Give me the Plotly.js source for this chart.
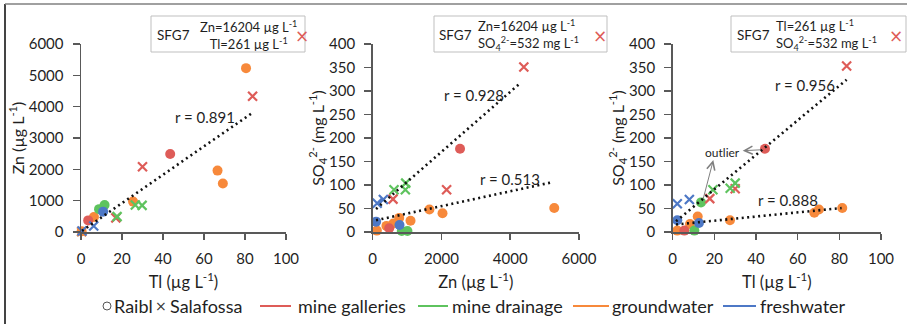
<!DOCTYPE html>
<html><head><meta charset="utf-8">
<script src="https://cdn.plot.ly/plotly-3.0.1.min.js"></script>
<style>html,body{margin:0;padding:0;background:#fff}#c{width:907px;height:324px}</style>
</head><body><div id="c"></div>
<script>
// ---------- DATA ----------
// Panel 1: Tl (x) vs Zn (y)
const P1_GAL_R_X=[43.5,3.5],           P1_GAL_R_Y=[2490,370];
const P1_GAL_S_X=[83.7,30,17],         P1_GAL_S_Y=[4330,2080,450];
const P1_DRA_R_X=[8.8,11.5],           P1_DRA_R_Y=[730,860];
const P1_DRA_S_X=[26.5,29.8,17.6],     P1_DRA_S_Y=[860,850,490];
const P1_GRO_R_X=[80.5,66.6,69.2,25.4,6.3,0.3], P1_GRO_R_Y=[5230,1960,1550,970,480,20];
const P1_GRO_S_X=[0.3],                P1_GRO_S_Y=[10];
const P1_FRE_R_X=[10.8],               P1_FRE_R_Y=[650];
const P1_FRE_S_X=[6.2,0.5],            P1_FRE_S_Y=[190,30];
// Panel 2: Zn (x) vs SO4 (y)
const P2_GAL_R_X=[2540,480],           P2_GAL_R_Y=[177,8];
const P2_GAL_S_X=[4395,2150,590],      P2_GAL_S_Y=[351,90,70];
const P2_DRA_R_X=[845,1010],           P2_DRA_R_Y=[2,2];
const P2_DRA_S_X=[620,960,950],        P2_DRA_S_Y=[90,104,90];
const P2_GRO_R_X=[5280,1650,2030,1100,770,600,400,120], P2_GRO_R_Y=[51,48,40,24,30,18,13,3];
const P2_FRE_R_X=[100,780],            P2_FRE_R_Y=[22,15];
const P2_FRE_S_X=[130,310],            P2_FRE_S_Y=[61,69];
// Panel 3: Tl (x) vs SO4 (y)
const P3_GAL_R_X=[44.3,5.6],           P3_GAL_R_Y=[177,3];
const P3_GAL_S_X=[83.5,30,17.8],       P3_GAL_S_Y=[353,92,71];
const P3_DRA_R_X=[13.6,10.4],          P3_DRA_R_Y=[63,3];
const P3_DRA_S_X=[30,27.6,19.3],       P3_DRA_S_Y=[104,93,90];
const P3_GRO_R_X=[81.4,70.2,68,27.5,12,8.3,2.2], P3_GRO_R_Y=[51,48,41,25,33,17,3];
const P3_FRE_R_X=[2.2,12.6],           P3_FRE_R_Y=[25,19];
const P3_FRE_S_X=[2.2,8],              P3_FRE_S_Y=[60,69];
// Trend lines (end points)
const FIT1_X=[0.5,83.3],  FIT1_Y=[37,3790];
const FIT2A_X=[97,4280],  FIT2A_Y=[49,316];
const FIT2B_X=[97,5228],  FIT2B_Y=[25,106];
const FIT3A_X=[1.6,83.5], FIT3A_Y=[23,324];
const FIT3B_X=[1.6,81.1], FIT3B_Y=[16,51];
const R_LABELS=['r = 0.891','r = 0.928','r = 0.513','r = 0.956','r = 0.888'];
// Tick settings
const X_TICKS_TL=[0,20,40,60,80,100];
const X_TICKS_ZN=[0,2000,4000,6000];
const Y_TICKS_ZN=[0,1000,2000,3000,4000,5000,6000];
const Y_TICKS_SO4=[0,50,100,150,200,250,300,350,400];
const GROUPS=['mine galleries','mine drainage','groundwater','freshwater'];
const SITES=['Raibl','Salafossa'];

// ---------- STYLE ----------
const COL={gal:'#DE5C58',dra:'#5EC35E',gro:'#F7893B',fre:'#4D78C6'};
const FONT='Lato, "Open Sans", sans-serif';
const W=907,H=324;
const PX=x=>x/W, PY=y=>1-y/H;

function circ(x,y,c,xa,ya){return {type:'scatter',mode:'markers',x:x,y:y,xaxis:xa,yaxis:ya,cliponaxis:false,showlegend:false,
  marker:{symbol:'circle',size:10,color:c,line:{width:0}}};}
function cross(x,y,c,xa,ya){return {type:'scatter',mode:'markers',x:x,y:y,xaxis:xa,yaxis:ya,cliponaxis:false,showlegend:false,
  marker:{symbol:'x-thin',size:9,color:c,line:{width:2.2,color:c}}};}
function fit(x,y,xa,ya){return {type:'scatter',mode:'lines',x:x,y:y,xaxis:xa,yaxis:ya,showlegend:false,cliponaxis:false,
  line:{color:'#111',width:2.6,dash:'2px,3.5px'}};}

const data=[
  circ(P1_GRO_R_X,P1_GRO_R_Y,COL.gro,'x','y'),
  circ(P1_GAL_R_X,P1_GAL_R_Y,COL.gal,'x','y'),
  circ(P1_DRA_R_X,P1_DRA_R_Y,COL.dra,'x','y'),
  circ(P1_FRE_R_X,P1_FRE_R_Y,COL.fre,'x','y'),
  cross(P1_GAL_S_X,P1_GAL_S_Y,COL.gal,'x','y'),
  cross(P1_DRA_S_X,P1_DRA_S_Y,COL.dra,'x','y'),
  cross(P1_GRO_S_X,P1_GRO_S_Y,COL.gro,'x','y'),
  cross(P1_FRE_S_X,P1_FRE_S_Y,COL.fre,'x','y'),
  fit(FIT1_X,FIT1_Y,'x','y'),

  circ(P2_GRO_R_X,P2_GRO_R_Y,COL.gro,'x2','y2'),
  circ(P2_GAL_R_X,P2_GAL_R_Y,COL.gal,'x2','y2'),
  circ(P2_DRA_R_X,P2_DRA_R_Y,COL.dra,'x2','y2'),
  circ(P2_FRE_R_X,P2_FRE_R_Y,COL.fre,'x2','y2'),
  cross(P2_GAL_S_X,P2_GAL_S_Y,COL.gal,'x2','y2'),
  cross(P2_DRA_S_X,P2_DRA_S_Y,COL.dra,'x2','y2'),
  cross(P2_FRE_S_X,P2_FRE_S_Y,COL.fre,'x2','y2'),
  fit(FIT2A_X,FIT2A_Y,'x2','y2'),
  fit(FIT2B_X,FIT2B_Y,'x2','y2'),

  circ(P3_GRO_R_X,P3_GRO_R_Y,COL.gro,'x3','y3'),
  circ(P3_GAL_R_X,P3_GAL_R_Y,COL.gal,'x3','y3'),
  circ(P3_DRA_R_X,P3_DRA_R_Y,COL.dra,'x3','y3'),
  circ(P3_FRE_R_X,P3_FRE_R_Y,COL.fre,'x3','y3'),
  cross(P3_GAL_S_X,P3_GAL_S_Y,COL.gal,'x3','y3'),
  cross(P3_DRA_S_X,P3_DRA_S_Y,COL.dra,'x3','y3'),
  cross(P3_FRE_S_X,P3_FRE_S_Y,COL.fre,'x3','y3'),
  fit(FIT3A_X,FIT3A_Y,'x3','y3'),
  fit(FIT3B_X,FIT3B_Y,'x3','y3')
];

const AX_COL='#595959', TXT='#1f1f1f';
function xax(dom,ticks,title,yanchor){return {domain:dom,anchor:yanchor,range:[ticks[0],ticks[ticks.length-1]],tickvals:ticks,
  showline:true,linecolor:AX_COL,linewidth:1.5,ticks:'outside',ticklen:6,tickwidth:1.5,tickcolor:AX_COL,
  showgrid:false,zeroline:false,fixedrange:true,ticklabelstandoff:6,
  tickfont:{family:FONT,size:15,color:TXT},
  title:{text:title,font:{family:FONT,size:16.5,color:TXT},standoff:11}};}
function yax(ticks,title,xanchor){return {domain:[PY(232),PY(44)],anchor:xanchor,range:[ticks[0],ticks[ticks.length-1]],tickvals:ticks,
  showline:true,linecolor:AX_COL,linewidth:1.5,ticks:'outside',ticklen:7,tickwidth:1.5,tickcolor:AX_COL,
  showgrid:false,zeroline:false,fixedrange:true,ticklabelstandoff:6,
  tickfont:{family:FONT,size:15,color:TXT},
  title:{text:title,font:{family:FONT,size:16,color:TXT},standoff:0}};}

const ann=[];
// correlation labels
ann.push({xref:'x',yref:'y',x:60.7,y:3660,text:R_LABELS[0],showarrow:false,font:{family:FONT,size:15,color:TXT}});
ann.push({xref:'x2',yref:'y2',x:2943,y:292,text:R_LABELS[1],showarrow:false,font:{family:FONT,size:15,color:TXT}});
ann.push({xref:'x2',yref:'y2',x:3998,y:113,text:R_LABELS[2],showarrow:false,font:{family:FONT,size:15,color:TXT}});
ann.push({xref:'x3',yref:'y3',x:63.7,y:312,text:R_LABELS[3],showarrow:false,font:{family:FONT,size:15,color:TXT}});
ann.push({xref:'x3',yref:'y3',x:55.2,y:69,text:R_LABELS[4],showarrow:false,font:{family:FONT,size:15,color:TXT}});
// outlier
ann.push({xref:'x3',yref:'y3',x:24.1,y:170,text:'outlier',showarrow:false,font:{family:FONT,size:12,color:TXT}});
ann.push({xref:'x3',yref:'y3',x:33.6,y:173,axref:'x3',ayref:'y3',ax:43,ay:175,text:'',showarrow:true,
  arrowhead:5,arrowsize:1.6,arrowwidth:1,arrowcolor:'#7f7f7f',standoff:0,startstandoff:0});
ann.push({xref:'x3',yref:'y3',x:19.5,y:153,axref:'x3',ayref:'y3',ax:14.5,ay:68,text:'',showarrow:true,
  arrowhead:5,arrowsize:1.6,arrowwidth:1,arrowcolor:'#7f7f7f',standoff:0,startstandoff:0});

// SFG7 boxes
const boxes=[
  {x0:151,x1:305,sfg:155,tx:249,anchor:'center',align:'center',l1:'Zn=16204 µg L<sup>-1</sup>',l2:'Tl=261 µg L<sup>-1</sup>',cx:302},
  {x0:434,x1:607,sfg:437,tx:476,anchor:'left',align:'left',l1:'Zn=16204 µg L<sup>-1</sup>',l2:'SO<sub>4</sub><sup>2-</sup>=532 mg L<sup>-1</sup>',cx:600},
  {x0:731,x1:906,sfg:735,tx:774,anchor:'left',align:'left',l1:'Tl=261 µg L<sup>-1</sup>',l2:'SO<sub>4</sub><sup>2-</sup>=532 mg L<sup>-1</sup>',cx:896}
];
const shapes=[];
boxes.forEach(b=>{
  shapes.push({type:'rect',xref:'paper',yref:'paper',x0:PX(b.x0),x1:PX(b.x1),y0:PY(52),y1:PY(16),line:{color:'#bfbfbf',width:1},fillcolor:'rgba(0,0,0,0)'});
  ann.push({xref:'paper',yref:'paper',x:PX(b.sfg),y:PY(35),xanchor:'left',yanchor:'middle',text:'SFG7',showarrow:false,font:{family:FONT,size:13.5,color:TXT}});
  ann.push({xref:'paper',yref:'paper',x:PX(b.tx),y:PY(35),xanchor:b.anchor,yanchor:'middle',align:b.align,text:b.l1+'<br>'+b.l2,showarrow:false,font:{family:FONT,size:13,color:TXT}});
  ann.push({xref:'paper',yref:'paper',x:PX(b.cx),y:PY(36),xanchor:'center',yanchor:'middle',text:'×',showarrow:false,font:{family:'DejaVu Sans',size:17,color:COL.gal}});
});

// frame
shapes.push({type:'line',xref:'paper',yref:'paper',x0:PX(5),x1:PX(5),y0:PY(324),y1:PY(4),line:{color:'#444',width:2}});
shapes.push({type:'line',xref:'paper',yref:'paper',x0:PX(5),x1:PX(907),y0:PY(4),y1:PY(4),line:{color:'#808080',width:1.5}});

// legend (drawn as shapes + text)
const LY=306, LF=18;
shapes.push({type:'circle',xref:'paper',yref:'paper',x0:PX(103),x1:PX(111),y0:PY(LY+4),y1:PY(LY-4),line:{color:'#555',width:1}});
ann.push({xref:'paper',yref:'paper',x:PX(112),y:PY(LY),xanchor:'left',yanchor:'middle',text:SITES[0],showarrow:false,font:{family:FONT,size:LF,color:TXT}});
ann.push({xref:'paper',yref:'paper',x:PX(161),y:PY(LY),xanchor:'center',yanchor:'middle',text:'×',showarrow:false,font:{family:'DejaVu Sans',size:14,color:'#333'}});
ann.push({xref:'paper',yref:'paper',x:PX(168),y:PY(LY),xanchor:'left',yanchor:'middle',text:SITES[1],showarrow:false,font:{family:FONT,size:LF,color:TXT}});
const legLines=[[260,291,COL.gal,296],[418,448,COL.dra,450],[573,609,COL.gro,610],[723,756,COL.fre,758]];
legLines.forEach((l,i)=>{
  shapes.push({type:'line',xref:'paper',yref:'paper',x0:PX(l[0]),x1:PX(l[1]),y0:PY(LY),y1:PY(LY),line:{color:l[2],width:2}});
  ann.push({xref:'paper',yref:'paper',x:PX(l[3]),y:PY(LY),xanchor:'left',yanchor:'middle',text:GROUPS[i],showarrow:false,font:{family:FONT,size:LF,color:TXT}});
});

const layout={
  width:W,height:H,margin:{l:0,r:0,t:0,b:0},paper_bgcolor:'#fff',plot_bgcolor:'rgba(0,0,0,0)',
  showlegend:false,
  xaxis:xax([PX(81),PX(286)],X_TICKS_TL,'Tl (µg L<sup>-1</sup>)','y'),
  yaxis:yax(Y_TICKS_ZN,'Zn (µg L<sup>-1</sup>)','x'),
  xaxis2:xax([PX(372.7),PX(579)],X_TICKS_ZN,'Zn (µg L<sup>-1</sup>)','y2'),
  yaxis2:yax(Y_TICKS_SO4,'SO<sub>4</sub><sup>2-</sup> (mg L<sup>-1</sup>)','x2'),
  xaxis3:xax([PX(672.7),PX(881)],X_TICKS_TL,'Tl (µg L<sup>-1</sup>)','y3'),
  yaxis3:yax(Y_TICKS_SO4,'SO<sub>4</sub><sup>2-</sup> (mg L<sup>-1</sup>)','x3'),
  annotations:ann,shapes:shapes
};
Plotly.newPlot('c',data,layout,{staticPlot:true,displayModeBar:false});
</script></body></html>
